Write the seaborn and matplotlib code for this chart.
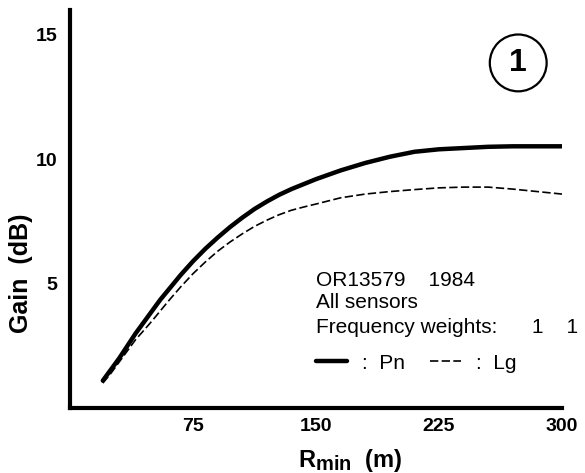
import numpy as np
import pandas as pd
import matplotlib
matplotlib.use("Agg")
import matplotlib.pyplot as plt
import matplotlib._mathtext as mtext
import seaborn as sns

# ---- data ----
r_min = [20, 25, 30, 35, 40, 45, 50, 55, 60, 67.5, 75, 82.5, 90, 97.5, 105,
         112.5, 120, 127.5, 135, 142.5, 150, 165, 180, 195, 210, 225, 240,
         255, 270, 285, 300]
gain_pn = [1.1, 1.55, 2.0, 2.5, 3.0, 3.45, 3.9, 4.35, 4.75, 5.35, 5.9, 6.4,
           6.85, 7.27, 7.65, 8.0, 8.3, 8.57, 8.8, 9.0, 9.2, 9.55, 9.85, 10.1,
           10.3, 10.4, 10.45, 10.5, 10.52, 10.52, 10.52]
gain_lg = [1.0, 1.4, 1.85, 2.3, 2.75, 3.12, 3.5, 3.9, 4.3, 4.87, 5.4, 5.87,
           6.3, 6.67, 7.0, 7.3, 7.55, 7.77, 7.95, 8.08, 8.2, 8.45, 8.6, 8.7,
           8.78, 8.85, 8.88, 8.88, 8.8, 8.7, 8.6]
x_ticks = [75, 150, 225, 300]
y_ticks = [5, 10, 15]
info_lines = ["OR13579    1984", "All sensors", "Frequency weights:      1    1"]
series_labels = [":  Pn", ":  Lg"]

sns.set_theme(style="white")
plt.rcParams["font.family"] = ["Liberation Sans", "DejaVu Sans"]
plt.rcParams["mathtext.fontset"] = "custom"
plt.rcParams["mathtext.rm"] = "Liberation Sans"
plt.rcParams["mathtext.bf"] = "Liberation Sans:bold"
plt.rcParams["mathtext.it"] = "Liberation Sans:italic"
for k in ["text.color", "axes.labelcolor", "xtick.color", "ytick.color",
          "axes.edgecolor"]:
    plt.rcParams[k] = "black"
mtext.SHRINK_FACTOR = 0.85

fig = plt.figure(figsize=(5.85, 4.73), dpi=100)
ax = fig.add_axes([0.1197, 0.1374, 0.841, 0.8415])

df_pn = pd.DataFrame({"x": r_min, "y": gain_pn})
df_lg = pd.DataFrame({"x": r_min, "y": gain_lg})
sns.lineplot(data=df_pn, x="x", y="y", ax=ax, color="black", lw=3.2,
             solid_capstyle="round", solid_joinstyle="round",
             label=series_labels[0])
sns.lineplot(data=df_lg, x="x", y="y", ax=ax, color="black", lw=1.2,
             label=series_labels[1])
ax.lines[1].set_dashes((5.0, 2.0))

ax.set_xlim(0, 300)
ax.set_ylim(0, 16)
ax.set_xticks(x_ticks)
ax.set_yticks(y_ticks)
ax.set_xticklabels([str(t) for t in x_ticks], fontsize=14, fontweight="bold")
ax.set_yticklabels([str(t) for t in y_ticks], fontsize=14, fontweight="bold")
ax.tick_params(direction="in", length=7, width=2, pad=7, colors="black")
ax.tick_params(axis="y", pad=9)

for s in ["top", "right"]:
    ax.spines[s].set_visible(False)
for s in ["left", "bottom"]:
    ax.spines[s].set_linewidth(3)
    ax.spines[s].set_color("black")

ax.set_xlabel(r"$\mathbf{R}_{\mathbf{min}}$  (m)", fontsize=17,
              fontweight="bold")
ax.xaxis.set_label_coords(0.569, -0.098)
ax.xaxis.label.set_va("top")
ax.set_ylabel("Gain  (dB)", fontsize=18, fontweight="bold")
ax.yaxis.set_label_coords(-0.075, 0.339)

ys = [0.3216, 0.264, 0.2035]
for t, yy in zip(info_lines, ys):
    ax.text(0.5, yy, t, transform=ax.transAxes, fontsize=15, va="center",
            ha="left", color="black")

leg = ax.legend(loc="center left", bbox_to_anchor=(0.5, 0.113), frameon=False,
                ncol=2, fontsize=15, handlelength=1.5, handletextpad=0.7,
                columnspacing=1.2, borderpad=0, borderaxespad=0)
for txt in leg.get_texts():
    txt.set_color("black")

ax.text(0.911, 0.867, "1", transform=ax.transAxes, fontsize=23,
        fontweight="bold", ha="center", va="center", color="black",
        bbox=dict(boxstyle="circle,pad=0.42", fc="none", ec="black", lw=1.6))

fig.savefig("out.png", dpi=100, facecolor="white")
